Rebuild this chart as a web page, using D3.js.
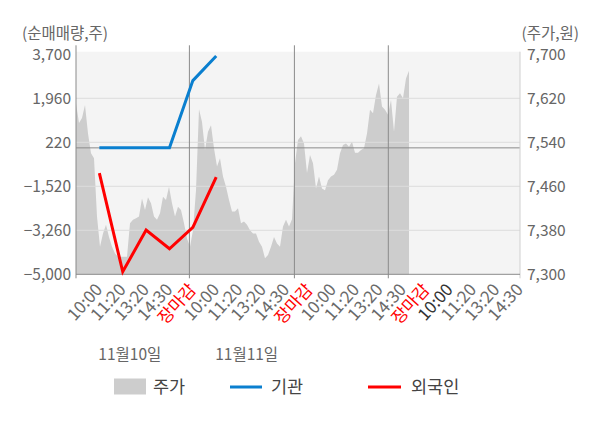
<!DOCTYPE html>
<html><head><meta charset="utf-8">
<script src="https://cdn.jsdelivr.net/npm/d3@7"></script>
<style>
html,body{margin:0;padding:0;background:#fff;}
svg{display:block;font-family:"Noto Sans CJK KR","Noto Sans",sans-serif;}
</style></head>
<body>
<svg id="chart" width="600" height="428"></svg>
<script>
// ---- data ----
const xLabels = ["10:00","11:20","13:20","14:30","장마감","10:00","11:20","13:20","14:30","장마감","10:00","11:20","13:20","14:30","장마감","10:00","11:20","13:20","14:30"];
const dateLabels = [{slot:1, text:"11월10일"},{slot:6, text:"11월11일"}];
const leftTicks = [3700, 1960, 220, -1520, -3260, -5000];
const rightTicks = [7700, 7620, 7540, 7460, 7380, 7300];
const institution = [0, 0, 0, 0, 2660, 3630];          // 기관
const foreigner = [-1000, -4900, -3250, -3990, -3140, -1160]; // 외국인
const price = [7611,7575,7584,7608,7556,7520,7511,7405,7350,7374,7390,7368,7350,7338,7332,7332,7332,7332,7393,7399,
7402,7405,7438,7417,7440,7429,7405,7399,7411,7441,7435,7459,7429,7405,7423,7417,7393,7365,7350,7380,
7453,7600,7577,7526,7559,7571,7529,7496,7511,7478,7459,7435,7414,7414,7420,7393,7396,7390,7380,7374,
7374,7359,7350,7329,7335,7350,7368,7356,7350,7387,7399,7387,7400,7502,7544,7551,7538,7484,7517,7502,
7456,7478,7456,7453,7471,7478,7481,7490,7520,7535,7538,7532,7541,7521,7521,7526,7529,7556,7599,7593,
7626,7647,7605,7599,7590,7617,7559,7623,7629,7620,7656,7670];
const dayBreaks = [37.8, 72.8, 104.1]; // price-index positions of day separators
const priceSpan = 111 / 0.75;           // price timeline occupies 3/4 of the plot width

// ---- layout ----
const L = 76, R = 520, T = 54.3, B = 274.3;
const svg = d3.select("#chart");

const xSlot = d3.scaleLinear().domain([0, xLabels.length]).range([L, R]);
const yL = d3.scaleLinear().domain([-5000, 3700]).range([B, T]);
const yR = d3.scaleLinear().domain([7300, 7700]).range([B, T]);
const xP = d3.scaleLinear().domain([0, priceSpan]).range([L, R]);

// background
svg.append("rect").attr("x", L).attr("y", T - 2.6).attr("width", R - L).attr("height", B - T + 2.6).attr("fill", "#f4f4f4");

// price area
const area = d3.area().x((d, i) => xP(i)).y0(B).y1(d => yR(d));
svg.append("path").datum(price).attr("d", area).attr("fill", "#cdcdcd");

// horizontal gridlines
svg.append("g").selectAll("line").data(leftTicks.slice(1, -1)).join("line")
  .attr("x1", L).attr("x2", R).attr("y1", d => yL(d)).attr("y2", d => yL(d))
  .attr("stroke", "#dcdcdc").attr("stroke-width", 1);
// zero line
svg.append("line").attr("x1", L).attr("x2", R).attr("y1", yL(0)).attr("y2", yL(0))
  .attr("stroke", "#8a8a8a").attr("stroke-width", 1);

// vertical separators
svg.append("g").selectAll("line").data(dayBreaks).join("line")
  .attr("x1", d => xP(d)).attr("x2", d => xP(d)).attr("y1", T - 9).attr("y2", B + 4)
  .attr("stroke", "#8a8a8a").attr("stroke-width", 1);
// left axis line
svg.append("line").attr("x1", L).attr("x2", L).attr("y1", T - 9).attr("y2", B + 4).attr("stroke", "#8a8a8a");
// right edge line
svg.append("line").attr("x1", R).attr("x2", R).attr("y1", T - 2.6).attr("y2", B + 4).attr("stroke", "#d0d0d0");
// bottom axis line
svg.append("line").attr("x1", L).attr("x2", R).attr("y1", B).attr("y2", B).attr("stroke", "#8a8a8a");

// lines
const line = d3.line().x((d, i) => xSlot(i + 1)).y(d => yL(d));
svg.append("path").datum(institution).attr("d", line).attr("fill", "none").attr("stroke", "#0a7fcf").attr("stroke-width", 3);
svg.append("path").datum(foreigner).attr("d", line).attr("fill", "none").attr("stroke", "#ff0000").attr("stroke-width", 3);

// left axis labels
svg.append("g").selectAll("text").data(leftTicks).join("text")
  .attr("x", 71).attr("y", d => yL(d)).attr("dy", "0.35em").attr("text-anchor", "end")
  .attr("fill", "#666").attr("font-size", 15.5).text(d => d3.format(",")(d));
// right axis labels
svg.append("g").selectAll("text").data(rightTicks).join("text")
  .attr("x", 527).attr("y", d => yR(d)).attr("dy", "0.35em").attr("text-anchor", "start")
  .attr("fill", "#666").attr("font-size", 15.5).text(d => d3.format(",")(d));
// axis titles
svg.append("text").attr("x", 22).attr("y", 33.5).attr("dy", "0.35em").attr("fill", "#666").attr("font-size", 15.5).text("(순매매량,주)");
svg.append("text").attr("x", 579).attr("y", 33.5).attr("dy", "0.35em").attr("text-anchor", "end").attr("fill", "#666").attr("font-size", 15.5).text("(주가,원)");

// x labels
svg.append("g").selectAll("text").data(xLabels).join("text")
  .attr("transform", (d, i) => `translate(${xSlot(i + 1) + 4},${B + 16}) rotate(-48)`)
  .attr("text-anchor", "end")
  .attr("fill", (d, i) => d === "장마감" ? "#ff0000" : (i === 15 ? "#333" : "#6a6a6a"))
  .attr("font-size", 17).text(d => d);

// date labels
svg.append("g").selectAll("text").data(dateLabels).join("text")
  .attr("x", d => xSlot(d.slot) - 1).attr("y", 355).attr("dy", "0.35em")
  .attr("fill", "#666").attr("font-size", 15.5).text(d => d.text);

// legend
const lg = svg.append("g");
lg.append("rect").attr("x", 114).attr("y", 378.5).attr("width", 32).attr("height", 16).attr("fill", "#cdcdcd");
lg.append("text").attr("x", 153).attr("y", 387).attr("dy", "0.35em").attr("fill", "#444").attr("font-size", 17.5).text("주가");
lg.append("line").attr("x1", 230).attr("x2", 262).attr("y1", 387).attr("y2", 387).attr("stroke", "#0a7fcf").attr("stroke-width", 3);
lg.append("text").attr("x", 271).attr("y", 387).attr("dy", "0.35em").attr("fill", "#444").attr("font-size", 17.5).text("기관");
lg.append("line").attr("x1", 368).attr("x2", 401).attr("y1", 387).attr("y2", 387).attr("stroke", "#ff0000").attr("stroke-width", 3);
lg.append("text").attr("x", 411).attr("y", 387).attr("dy", "0.35em").attr("fill", "#444").attr("font-size", 17.5).text("외국인");
</script>
</body></html>
